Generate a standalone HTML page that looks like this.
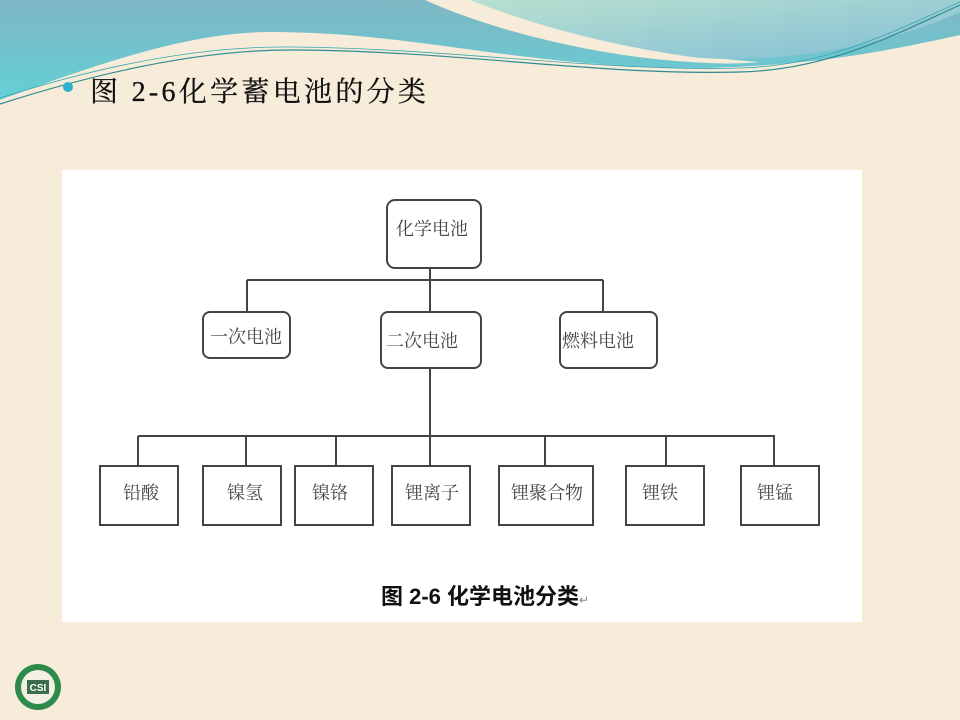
<!DOCTYPE html>
<html><head><meta charset="utf-8"><style>
html,body{margin:0;padding:0;width:960px;height:720px;overflow:hidden;background:#f6ecd9}
svg{display:block}
</style></head><body>
<svg width="960" height="720" viewBox="0 0 960 720" xmlns="http://www.w3.org/2000/svg">
<defs>
<linearGradient id="tg" x1="0" y1="0" x2="0" y2="1">
<stop offset="0" stop-color="#7fb6c4"/><stop offset="1" stop-color="#5ed4d8"/>
</linearGradient>
<linearGradient id="bl" x1="0" y1="0" x2="1" y2="1">
<stop offset="0" stop-color="#b9e0cf"/><stop offset="1" stop-color="#82bfd6"/>
</linearGradient>
</defs>
<rect width="960" height="720" fill="#f6ecd9"/>
<rect width="960" height="115" fill="url(#tg)"/>
<path d="M0,100 C120,55 200,32 270,32 C420,32 520,68 700,68 C820,66 900,48 960,35 V720 H0 Z" fill="#f6ecd9"/>
<path d="M425,0 C480,25 580,55 690,62 C720,64 740,64 760,62 C700,58 600,45 470,0 Z" fill="#f6ecd9"/>
<path d="M470,0 C520,20 600,45 700,58 C800,64 900,40 960,12 V0 Z" fill="url(#bl)"/>
<path d="M0,104 C100,72 200,50 290,50 C450,50 600,76 740,72 C830,70 900,32 960,5" fill="none" stroke="#2f8a92" stroke-width="1.2"/>
<path d="M0,98 C100,66 200,46 290,47 C450,48 600,72 740,68 C830,66 900,28 960,2" fill="none" stroke="#3aa4b0" stroke-width="0.8"/>
<circle cx="68" cy="87" r="5" fill="#2fb2d0"/>
<text x="90" y="101" font-family="'Liberation Serif','Noto Serif CJK SC',serif" font-size="28" fill="#111" letter-spacing="3.3" stroke="#111" stroke-width="0.3">图 2-6化学蓄电池的分类</text>

<rect x="62" y="170" width="800" height="452" fill="#fff"/>
<g stroke="#444" stroke-width="2" fill="none">
<path d="M247,280 H603 M430,268 V312 M247,280 V312 M603,280 V312"/>
<path d="M430,368 V436 M138,436 H775 M138,436 V466 M246,436 V466 M336,436 V466 M430,436 V466 M545,436 V466 M666,436 V466 M774,436 V466"/>
<rect x="387" y="200" width="94" height="68" rx="8" fill="#fff"/>
<rect x="203" y="312" width="87" height="46" rx="7" fill="#fff"/>
<rect x="381" y="312" width="100" height="56" rx="7" fill="#fff"/>
<rect x="560" y="312" width="97" height="56" rx="7" fill="#fff"/>
<rect x="100" y="466" width="78" height="59" fill="#fff"/>
<rect x="203" y="466" width="78" height="59" fill="#fff"/>
<rect x="295" y="466" width="78" height="59" fill="#fff"/>
<rect x="392" y="466" width="78" height="59" fill="#fff"/>
<rect x="499" y="466" width="94" height="59" fill="#fff"/>
<rect x="626" y="466" width="78" height="59" fill="#fff"/>
<rect x="741" y="466" width="78" height="59" fill="#fff"/>
</g>
<g font-family="'Liberation Serif','Noto Serif CJK SC',serif" font-size="18" fill="#444" text-anchor="middle">
<text x="432" y="235">化学电池</text>
<text x="246" y="343">一次电池</text>
<text x="422" y="347">二次电池</text>
<text x="598" y="347">燃料电池</text>
<text x="141" y="499">铅酸</text>
<text x="245" y="499">镍氢</text>
<text x="330" y="499">镍铬</text>
<text x="432" y="499">锂离子</text>
<text x="547" y="499">锂聚合物</text>
<text x="660" y="499">锂铁</text>
<text x="775" y="499">锂锰</text>
</g>
<text x="381" y="604" font-family="'Liberation Sans','Noto Sans CJK SC',sans-serif" font-size="22" font-weight="bold" fill="#111">图 2-6 化学电池分类<tspan font-size="12" fill="#888" font-weight="normal">↵</tspan></text>

<circle cx="38" cy="687" r="23" fill="#2e8a4a"/>
<circle cx="38" cy="687" r="17" fill="#f3efe2"/>
<rect x="27" y="680" width="22" height="14" fill="#3a6e4a"/>
<text x="38" y="691" font-family="'Liberation Sans',sans-serif" font-size="10" font-weight="bold" fill="#fff" text-anchor="middle">CSI</text>
</svg>
</body></html>
